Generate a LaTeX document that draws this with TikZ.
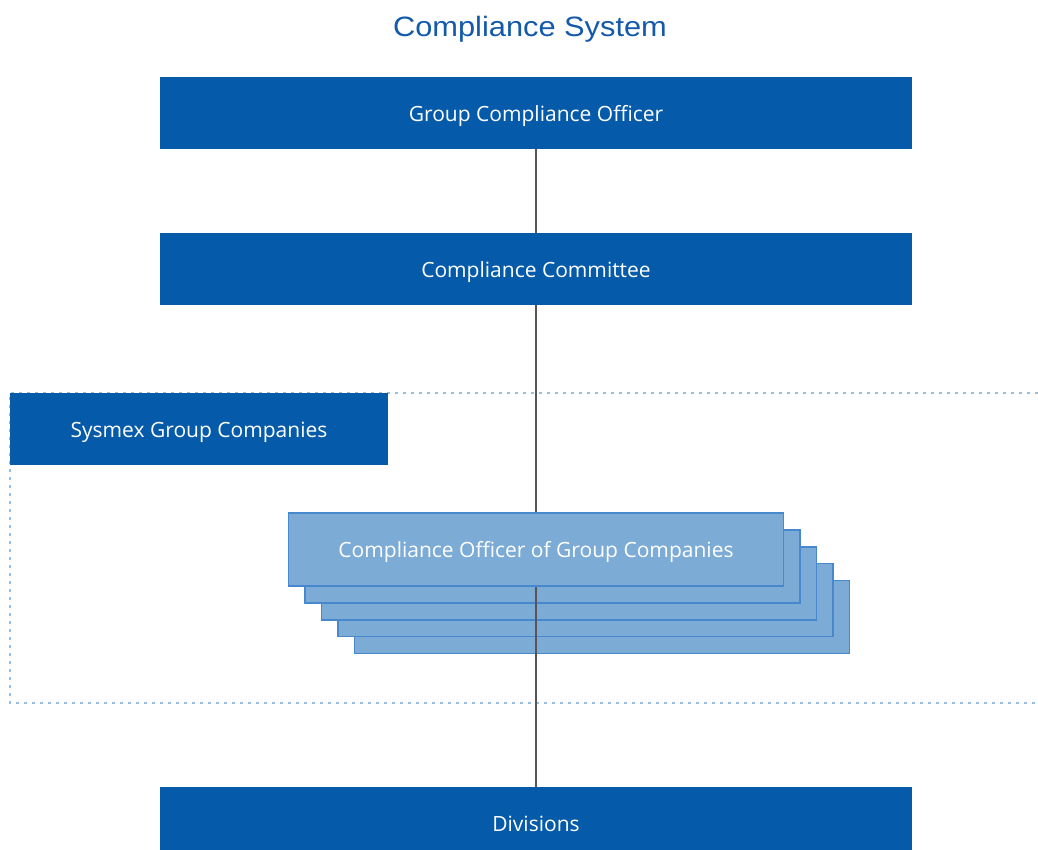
\documentclass[tikz,border=0pt]{standalone}
\usepackage{fontspec}
\setmainfont{Open Sans}
\newfontfamily\titlefont{Liberation Sans}
\definecolor{darkblue}{RGB}{5,91,170}
\definecolor{lightfill}{RGB}{124,171,214}
\definecolor{lightedge}{RGB}{70,135,205}
\definecolor{dotblue}{RGB}{150,190,226}
\definecolor{linegray}{RGB}{85,85,85}
\definecolor{titleblue}{RGB}{20,90,170}
\tikzset{
  boxfont/.style={font=\fontsize{21}{24}\selectfont, text height=21pt, text depth=5pt},
  mainbox/.style={boxfont, fill=darkblue, draw=none, minimum width=752pt, minimum height=72pt, inner sep=0pt, text=white},
  sidebox/.style={boxfont, fill=darkblue, draw=none, minimum width=378pt, minimum height=72pt, inner sep=0pt, text=white},
  stackbox/.style={boxfont, fill=lightfill, draw=lightedge, line width=1.2pt, minimum width=495pt, minimum height=73pt, inner sep=0pt, text=white},
  groupframe/.style={draw=dotblue, line width=2.2pt, dash pattern=on 2.8pt off 5.2pt},
  link/.style={draw=linegray, line width=1.5pt}
}
\begin{document}
\begin{tikzpicture}[x=1pt,y=-1pt]
\useasboundingbox (0,0) rectangle (1038,849);
\fill[white] (0,0) rectangle (1038,849);
% title
\node[text=titleblue, font=\titlefont\fontsize{28}{32}\selectfont, xscale=1.1, transform shape] (title) at (530,29) {Compliance System};
% group frame
\draw[groupframe] (1038,393) -- (10,393) -- (10,703) -- (1038,703);
% main boxes
\node[mainbox] (gco) at (536,113) {Group Compliance Officer};
\node[mainbox] (cc) at (536,269) {Compliance Committee};
\node[sidebox] (sgc) at (199,429) {Sysmex Group Companies};
\node[mainbox] (div) at (536,823) {Divisions};
% stacked boxes (back to front)
\node[stackbox] (s5) at (602,617) {};
\node[stackbox] (s4) at (585.5,600) {};
\node[stackbox] (s3) at (569,583.5) {};
\node[stackbox] (s2) at (552.5,566.5) {};
% connectors
\draw[link] (gco.south) -- (cc.north);
\draw[link] (cc.south) -- (div.north);
% front box
\node[stackbox] (coc) at (536,549.5) {Compliance Officer of Group Companies};
\end{tikzpicture}
\end{document}
